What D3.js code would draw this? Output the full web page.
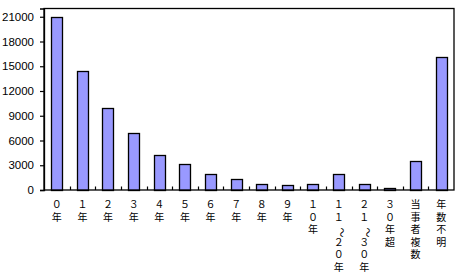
<!DOCTYPE html>
<html>
<head>
<meta charset="utf-8">
<script src="https://cdn.jsdelivr.net/npm/d3@7"></script>
<style>
  html, body { margin: 0; padding: 0; background: #fff; }
  svg { display: block; }
</style>
</head>
<body>
<svg id="chart" width="462" height="278"></svg>
<script>
const categories = ["０年","１年","２年","３年","４年","５年","６年","７年","８年","９年","１０年","１１～２０年","２１～３０年","３０年超","当事者複数","年数不明"];
const values = [21000, 14400, 9900, 6850, 4300, 3100, 1900, 1300, 700, 570, 700, 1900, 700, 200, 3470, 16150];
const yTicks = [0, 3000, 6000, 9000, 12000, 15000, 18000, 21000];
const yMax = 22000;

const svg = d3.select("#chart");
const pLeft = 44, pRight = 454, pTop = 8.5, pBottom = 190;

const x = d3.scaleBand().domain(categories).range([pLeft, pRight])
  .paddingInner(0.565).paddingOuter(0.2825);
const y = d3.scaleLinear().domain([0, yMax]).range([pBottom, pTop]);

// bars
svg.append("g").selectAll("rect").data(categories).join("rect")
  .attr("x", d => Math.round(x(d)) + 0.5)
  .attr("y", (d, i) => Math.round(y(values[i])) + 0.5)
  .attr("width", Math.round(x.bandwidth()))
  .attr("height", (d, i) => Math.round(y(0)) - Math.round(y(values[i])))
  .attr("fill", "#9999ff")
  .attr("stroke", "#000")
  .attr("stroke-width", 1.3);

// plot border
svg.append("rect")
  .attr("x", pLeft).attr("y", pTop)
  .attr("width", pRight - pLeft).attr("height", pBottom - pTop)
  .attr("fill", "none").attr("stroke", "#000").attr("stroke-width", 1.3);

// y axis
const yAxis = d3.axisLeft(y).tickValues(yTicks).tickSize(4).tickPadding(6).tickFormat(d3.format("d"));
const gy = svg.append("g").attr("transform", `translate(${pLeft},0)`).call(yAxis);
gy.select(".domain").attr("stroke", "#000").attr("stroke-width", 1.3);
gy.selectAll(".tick line").attr("stroke", "#000").attr("stroke-width", 1.2);
gy.selectAll(".tick text")
  .attr("font-family", "'Liberation Sans', Arial, sans-serif")
  .attr("font-size", 11.5).attr("fill", "#000");

// x category boundary ticks (inside, upward)
const step = x.step();
const bounds = d3.range(1, categories.length).map(k => pLeft + k * step);
svg.append("g").selectAll("line").data(bounds).join("line")
  .attr("x1", d => Math.round(d) + 0.5).attr("x2", d => Math.round(d) + 0.5)
  .attr("y1", pBottom).attr("y2", pBottom - 3.5)
  .attr("stroke", "#000").attr("stroke-width", 1.2);

// x labels, stacked vertically (one text per category, one tspan per character)
const lab = svg.append("g")
  .attr("font-family", "'Noto Sans CJK JP', sans-serif")
  .attr("font-size", 10).attr("fill", "#000");
categories.forEach(c => {
  const cx = x(c) + x.bandwidth() / 2;
  const t = lab.append("text")
    .attr("text-anchor", "middle")
    .attr("dominant-baseline", "central");
  Array.from(c).forEach((ch, j) => {
    const cy = 203 + j * 12.5;
    const s = t.append("tspan").text(ch);
    if (ch === "～") {
      s.attr("x", cx + 5).attr("y", cy - 5).attr("rotate", 90);
    } else {
      s.attr("x", cx).attr("y", cy);
    }
  });
});
</script>
</body>
</html>
